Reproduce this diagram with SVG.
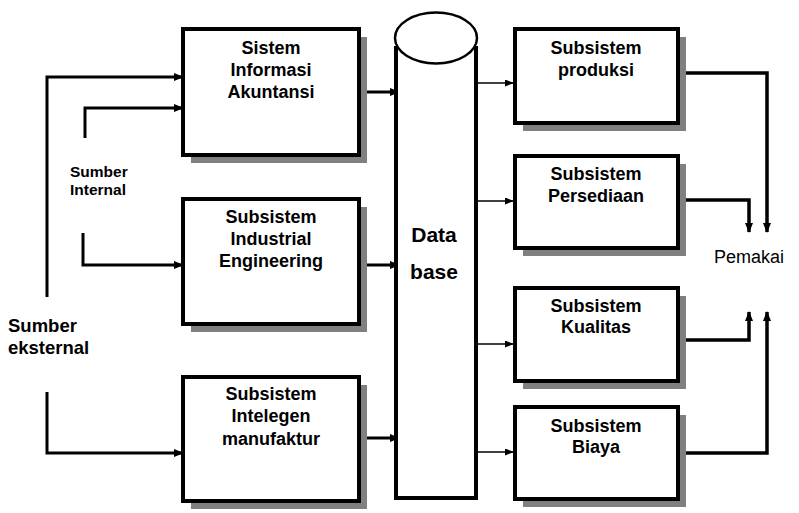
<svg xmlns="http://www.w3.org/2000/svg" width="799" height="513" viewBox="0 0 799 513">
<style>
.box{fill:#fff;stroke:#000;stroke-width:4}
.shadow{fill:#808080}
.t{font-family:"Liberation Sans",Arial,sans-serif;font-weight:bold;font-size:18px;text-anchor:middle;fill:#000}
.lbl{font-family:"Liberation Sans",Arial,sans-serif;fill:#000}
.thick{fill:none;stroke:#000;stroke-width:3}
.out{fill:none;stroke:#000;stroke-width:3.5}
.thin{fill:none;stroke:#000;stroke-width:1.5}
</style>
<defs>
<marker id="ah" markerUnits="userSpaceOnUse" markerWidth="10" markerHeight="8" refX="9" refY="4" orient="auto"><path d="M0,0 L10,4 L0,8 z" fill="#000"/></marker>
<marker id="ahs" markerUnits="userSpaceOnUse" markerWidth="9" markerHeight="7" refX="9" refY="3.5" orient="auto"><path d="M0,0 L9,3.5 L0,7 z" fill="#000"/></marker>
</defs>
<rect width="799" height="513" fill="#fff"/>

<g id="connectors">
<path class="thick" d="M47,297 V77 H183" marker-end="url(#ah)"/>
<path class="thick" d="M47,392 V453 H183" marker-end="url(#ah)"/>
<path class="thick" d="M85,138 V108 H183" marker-end="url(#ah)"/>
<path class="thick" d="M83,233 V265 H183" marker-end="url(#ah)"/>
<path class="thick" d="M361,92 H399" marker-end="url(#ah)"/>
<path class="thick" d="M361,265 H399" marker-end="url(#ah)"/>
<path class="thick" d="M361,438 H399" marker-end="url(#ah)"/>
<path class="thin" d="M478,83 H514" marker-end="url(#ahs)"/>
<path class="thin" d="M478,201 H514" marker-end="url(#ahs)"/>
<path class="thin" d="M478,344 H514" marker-end="url(#ahs)"/>
<path class="thin" d="M478,452 H514" marker-end="url(#ahs)"/>
<path class="out" d="M680,73 H767 V232" marker-end="url(#ah)"/>
<path class="out" d="M680,200 H749 V232" marker-end="url(#ah)"/>
<path class="out" d="M680,340 H749 V312" marker-end="url(#ah)"/>
<path class="out" d="M680,453 H767 V312" marker-end="url(#ah)"/>
</g>

<g id="sia">
<rect class="shadow" x="191" y="37" width="176" height="126"/>
<rect class="box" x="183" y="29" width="176" height="126"/>
<text class="t" x="271" y="54">Sistem</text>
<text class="t" x="271" y="76">Informasi</text>
<text class="t" x="271" y="98">Akuntansi</text>
</g>
<g id="sie">
<rect class="shadow" x="191" y="207" width="176" height="125"/>
<rect class="box" x="183" y="199" width="176" height="125"/>
<text class="t" x="271" y="223">Subsistem</text>
<text class="t" x="271" y="245">Industrial</text>
<text class="t" x="271" y="267">Engineering</text>
</g>
<g id="sim">
<rect class="shadow" x="191" y="385" width="176" height="124"/>
<rect class="box" x="183" y="377" width="176" height="124"/>
<text class="t" x="271" y="400">Subsistem</text>
<text class="t" x="271" y="422">Intelegen</text>
<text class="t" x="271" y="445">manufaktur</text>
</g>

<g id="database">
<path d="M396,46 V498 H476 V46" fill="#fff" stroke="#000" stroke-width="4"/>
<ellipse cx="436" cy="38" rx="41" ry="25.5" fill="#fff" stroke="#000" stroke-width="2.5"/>
<text class="t" x="434" y="242" style="font-size:21px">Data</text>
<text class="t" x="434" y="279" style="font-size:21px">base</text>
</g>

<g id="produksi">
<rect class="shadow" x="523" y="37" width="163" height="94"/>
<rect class="box" x="515" y="29" width="163" height="94"/>
<text class="t" x="596" y="54">Subsistem</text>
<text class="t" x="596" y="76">produksi</text>
</g>
<g id="persediaan">
<rect class="shadow" x="523" y="164" width="163" height="92"/>
<rect class="box" x="515" y="156" width="163" height="92"/>
<text class="t" x="596" y="180">Subsistem</text>
<text class="t" x="596" y="202">Persediaan</text>
</g>
<g id="kualitas">
<rect class="shadow" x="523" y="296" width="163" height="93"/>
<rect class="box" x="515" y="288" width="163" height="93"/>
<text class="t" x="596" y="312">Subsistem</text>
<text class="t" x="596" y="333">Kualitas</text>
</g>
<g id="biaya">
<rect class="shadow" x="523" y="415" width="163" height="92"/>
<rect class="box" x="515" y="407" width="163" height="92"/>
<text class="t" x="596" y="432">Subsistem</text>
<text class="t" x="596" y="453">Biaya</text>
</g>

<g id="sumber-internal">
<text class="lbl" x="70" y="177" font-size="15.5" font-weight="bold">Sumber</text>
<text class="lbl" x="70" y="195" font-size="15.5" font-weight="bold">Internal</text>
</g>
<g id="sumber-eksternal">
<text class="lbl" x="8" y="332" font-size="18.5" font-weight="bold">Sumber</text>
<text class="lbl" x="8" y="354" font-size="18.5" font-weight="bold">eksternal</text>
</g>
<g id="pemakai">
<text class="lbl" x="714" y="263" font-size="18">Pemakai</text>
</g>
</svg>
